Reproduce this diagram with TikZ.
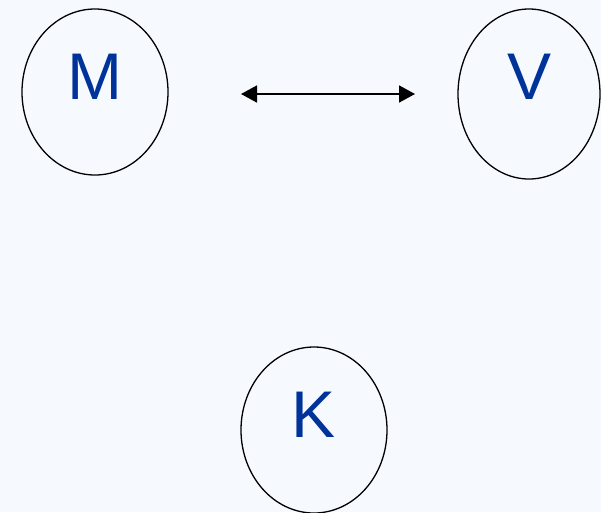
\documentclass[tikz,border=0pt]{standalone}
\usepackage{fontspec}
\setmainfont{Liberation Sans}
\usetikzlibrary{shapes.geometric, arrows.meta}
\definecolor{bgblue}{RGB}{246,250,255}
\definecolor{letterblue}{RGB}{0,51,153}
\begin{document}
\begin{tikzpicture}[x=1pt, y=-1pt,
    oval/.style={ellipse, draw, line width=1.3pt, inner sep=0pt, minimum width=146pt, minimum height=166pt},
    letter/.style={text=letterblue, font=\fontsize{66}{78}\selectfont, inner sep=0pt}]

% Background
\fill[bgblue] (0,0) rectangle (601,512);
\useasboundingbox (0,0) rectangle (601,512);

% Nodes
\node (M) [oval] at (95,92) {};
\node (V) [oval, minimum width=142pt, minimum height=170pt] at (529,94) {};
\node (K) [oval] at (314,430) {};

\node (Mtext) [letter] at ([yshift=15pt]M.center) {M};
\node (Vtext) [letter] at ([yshift=17pt]V.center) {V};
\node (Ktext) [letter] at ([yshift=15pt]K.center) {K};

% Arrow between M and V
\coordinate (left) at (241,94);
\coordinate (right) at (415,94);
\draw[{Triangle[length=16pt, width=17pt]}-{Triangle[length=16pt, width=17pt]}, line width=1.6pt] (left) -- (right);

\end{tikzpicture}
\end{document}
